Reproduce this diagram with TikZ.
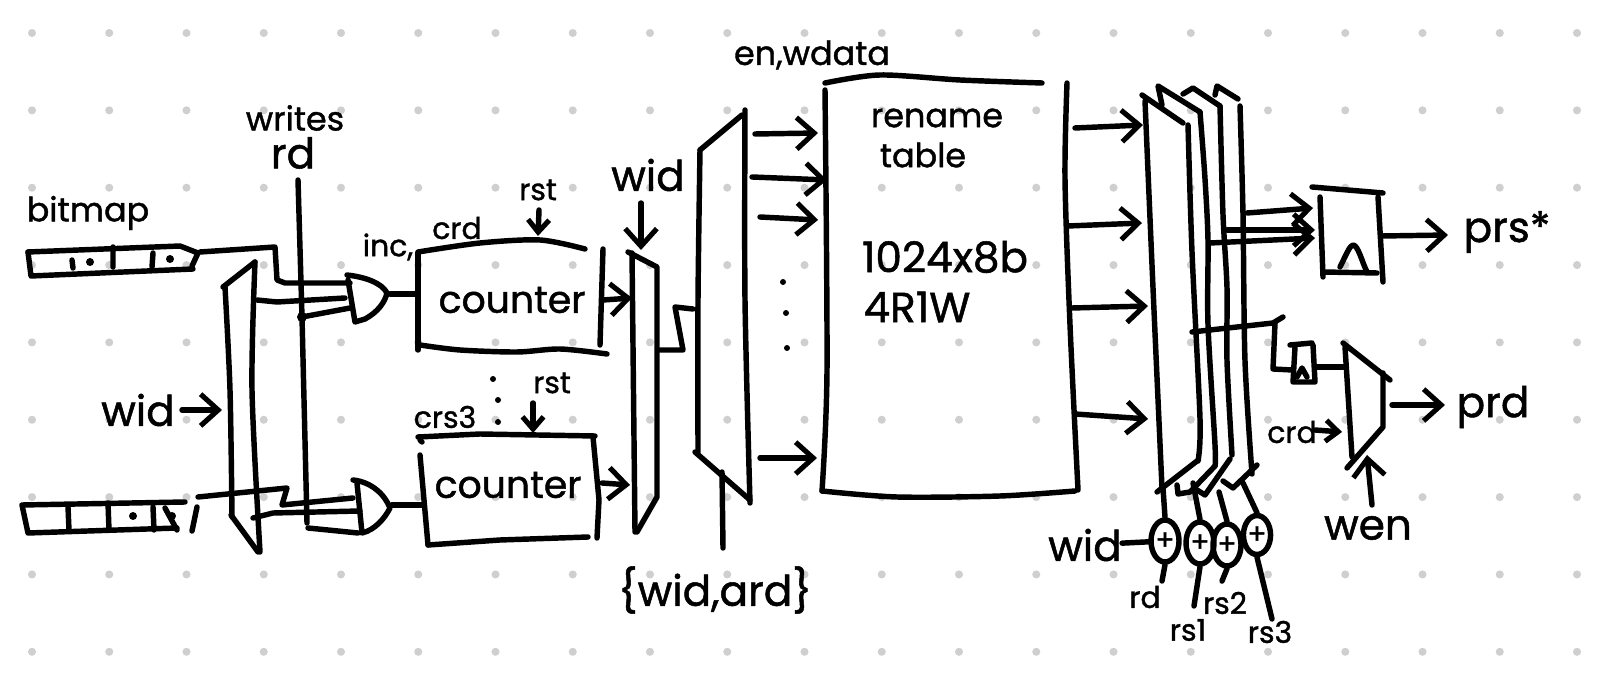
\documentclass[tikz,border=0pt]{standalone}
\usepackage{fontspec}
\usepackage{tikz}
\usetikzlibrary{arrows.meta,shapes.geometric}
\setmainfont{Poppins}[FakeBold=1.2]
\definecolor{griddot}{HTML}{CFCFCF}
\tikzset{
  wire/.style={line width=3.1pt,line cap=round,line join=round},
  sig/.style={wire,-{Straight Barb[length=10pt,width=18pt,line width=2.9pt]}},
  sigsmall/.style={wire,-{Straight Barb[length=7pt,width=12pt,line width=2.9pt]}},
  griddotted/.style={circle,fill=griddot,inner sep=0pt,minimum size=4.6pt},
  adder/.style={ellipse,draw,line width=3.1pt,inner sep=0pt,minimum width=0.56cm,minimum height=0.84cm,font=\fontsize{16}{16}\selectfont},
  bighand/.style={inner sep=0pt,font=\fontsize{24}{24}\selectfont},
  counterhand/.style={inner sep=0pt,font=\fontsize{21.5}{21.5}\selectfont},
  midhand/.style={inner sep=0pt,font=\fontsize{19}{19}\selectfont},
  lowhand/.style={inner sep=0pt,font=\fontsize{17}{17}\selectfont}
}
\begin{document}
\begin{tikzpicture}[x=0.02cm,y=-0.02cm]
  \useasboundingbox (0,0) rectangle (1598,688);
  \foreach \col in {0,...,20}
    \foreach \row in {0,...,8}
      \node at ({32+77.25*\col},{33+77.35*\row}) [griddotted] (g\col-\row) {};

  \node at (88,213) [midhand] (bitmap) {bitmap};
  \node at (295,118) [midhand] (writes) {writes};
  \node at (293,153) [bighand] (rdtop) {rd};
  \node at (138,410) [bighand] (widA) {wid};
  \node at (388,247) [lowhand] (inc) {inc,};
  \node at (457,228) [lowhand] (crdA) {crd};
  \node at (538,190) [lowhand] (rstA) {rst};
  \node at (445,417) [lowhand] (crsB) {crs3};
  \node at (552,383) [lowhand] (rstB) {rst};
  \node at (512,300) [counterhand] (counterA) {counter};
  \node at (508,485) [counterhand] (counterB) {counter};
  \node at (648,175) [bighand] (widB) {wid};
  \node at (715,590) [bighand] (widard) {\{wid,ard\}};
  \node at (812,55) [midhand] (enwdata) {en,wdata};
  \node at (937,118) [midhand] (rename) {rename};
  \node at (923,155) [midhand] (tablelbl) {table};
  \node at (945,257) [bighand] (size) {1024x8b};
  \node at (917,307) [bighand] (ports) {4R1W};
  \node at (1507,232) [bighand] (prs) {prs*};
  \node at (1493,407) [bighand] (prd) {prd};
  \node at (1292,432) [lowhand] (crdB) {crd};
  \node at (1368,528) [bighand] (wen) {wen};
  \node at (1085,545) [bighand] (widC) {wid};
  \node at (1145,597) [lowhand] (rd) {rd};
  \node at (1188,630) [lowhand] (rsone) {rs1};
  \node at (1225,603) [lowhand] (rstwo) {rs2};
  \node at (1270,632) [lowhand] (rsthree) {rs3};

  \draw[wire] (28,252) -- (180,246) -- (198,253) -- (192,266);
  \draw[wire] (28,252) -- (31,276) -- (193,269);
  \draw[wire] (72,260) -- (73,268) (113,247) -- (113,267) (153,253) -- (152,267);
  \fill (90,262) circle (4) (170,259) circle (4);
  \draw[wire] (22,505) -- (185,502) (22,505) -- (28,533) -- (177,528);
  \draw[wire] (68,507) -- (69,530) (108,503) -- (109,530) (153,507) -- (154,530);
  \draw[wire] (197,507) -- (192,531) (165,508) -- (177,530);
  \fill (133,516) circle (4) (172,516) circle (4);

  \draw[wire] plot[smooth] coordinates {(225,287) (230,390) (232,517)};
  \draw[wire] (223,287) -- (255,262);
  \draw[wire] plot[smooth] coordinates {(255,262) (252,390) (260,552)};
  \draw[wire] (231,515) -- (258,552);
  \coordinate (muxAouta) at (257,300);
  \coordinate (muxAoutb) at (253,518);

  \coordinate (regAout) at (200,252);
  \coordinate (regBout) at (198,497);
  \coordinate (andAa) at (350,283);
  \coordinate (andAb) at (345,298);
  \coordinate (andAc) at (350,308);
  \coordinate (andBa) at (353,498);
  \coordinate (andBb) at (360,511);
  \coordinate (andBc) at (358,533);
  \coordinate (wrtop) at (298,180);
  \coordinate (wrtap) at (302,317);
  \coordinate (wrend) at (307,523);
  \draw[wire] (regAout) -- (275,247) -- (277,280) -- (285,283) -- (andAa);
  \draw[wire] (muxAouta) -- (277,302) -- (andAb);
  \draw[wire] (wrtop) -- (wrtap) -- (wrend);
  \draw[wire] (wrtap) -- (andAc);
  \fill (wrtap) circle (5);
  \draw[wire] (regBout) -- (287,488) -- (282,505) -- (andBa);
  \draw[wire] (muxAoutb) -- (273,513) -- (andBb);
  \draw[wire] (308,528) -- (andBc);

  \draw[wire] (348,280) -- (355,322) -- (365,319) .. controls (378,312) and (385,302) .. (387,293) .. controls (382,283) and (365,277) .. (347,275);
  \draw[wire] (357,483) -- (362,533) .. controls (375,530) and (385,518) .. (390,508) .. controls (385,495) and (372,482) .. (353,480);

  \coordinate (counterAin) at (418,294);
  \coordinate (counterBin) at (422,505);
  \coordinate (andAout) at (390,294);
  \coordinate (andBout) at (392,505);
  \draw[wire] (andAout) -- (counterAin);
  \draw[wire] (andBout) -- (counterBin);
  \draw[sig] (182,410) -- (222,410);

  \draw[wire] (418,253) -- (418,350);
  \draw[wire] plot[smooth] coordinates {(418,252) (480,243) (540,240) (585,249)};
  \draw[wire] plot[smooth] coordinates {(420,345) (460,350) (517,352) (560,349) (607,354)};
  \draw[wire] (603,249) -- (600,345);
  \draw[wire] (418,437) -- (480,434) -- (595,436);
  \draw[wire] (420,440) -- (422,442) (420,455) -- (428,545);
  \draw[wire] (428,545) -- (500,540) -- (588,537);
  \draw[wire] (593,437) -- (599,500) -- (597,538);
  \draw[sigsmall] (539,210) -- (538,236);
  \draw[sigsmall] (533,403) -- (533,433);
  \draw[sig] (641,203) -- (641,250);
  \draw[sig] (603,300) -- (632,298);
  \draw[sig] (602,483) -- (630,485);
  \fill (493,379) circle (3) (498,400) circle (3) (498,422) circle (3);

  \draw[wire] (628,252) -- (657,267) -- (657,497) -- (637,532);
  \draw[wire] (632,253) -- (635,532);
  \coordinate (muxBout) at (660,350);
  \coordinate (muxCin) at (693,309);
  \draw[wire] (muxBout) -- (683,350) -- (675,307) -- (muxCin);

  \draw[wire] (700,150) -- (742,115);
  \draw[wire] plot[smooth] coordinates {(700,150) (698,300) (698,452)};
  \draw[wire] plot[smooth] coordinates {(745,110) (745,300) (750,503)};
  \draw[wire] (695,452) -- (750,500);
  \coordinate (widardtop) at (722,472);
  \coordinate (widardend) at (723,548);
  \draw[wire] (widardtop) -- (widardend);

  \draw[wire] plot[smooth] coordinates {(825,83) (880,75) (960,80) (1042,83)};
  \draw[wire] plot[smooth] coordinates {(825,90) (827,370) (822,491)};
  \draw[wire] plot[smooth] coordinates {(1067,83) (1065,179) (1070,325) (1078,490)};
  \draw[wire] plot[smooth] coordinates {(822,491) (897,497) (1000,496) (1075,491)};
  \draw[sig] (755,134) -- (818,133);
  \draw[sig] (752,177) -- (827,180);
  \draw[sig] (760,217) -- (818,220);
  \draw[sig] (760,458) -- (817,458);
  \fill (783,282) circle (3) (786,313) circle (3) (787,348) circle (3);

  \draw[sig] (1075,128) -- (1143,125);
  \draw[sig] (1068,226) -- (1142,223);
  \draw[sig] (1072,308) -- (1148,306);
  \draw[sig] (1075,414) -- (1148,419);

  \draw[wire] (1142,95) -- (1183,123);
  \draw[wire] plot[smooth] coordinates {(1145,101) (1153,288) (1162,488)};
  \draw[wire] (1157,492) -- (1197,461);
  \draw[wire] plot[smooth] coordinates {(1188,125) (1192,252) (1200,419) (1198,461)};
  \draw[wire] (1162,105) -- (1158,86) -- (1200,112);
  \draw[wire] plot[smooth] coordinates {(1200,112) (1205,179) (1208,241) (1208,325) (1215,445) (1215,466)};
  \draw[wire] (1177,485) -- (1178,494) -- (1190,492) -- (1215,466);
  \draw[wire] (1183,94) -- (1193,88) -- (1220,106);
  \draw[wire] plot[smooth] coordinates {(1220,106) (1223,215) (1227,288) (1227,361) (1232,455)};
  \draw[wire] (1197,490) -- (1205,495) -- (1230,459);
  \draw[wire] (1215,95) -- (1217,86) -- (1238,99);
  \draw[wire] plot[smooth] coordinates {(1240,106) (1243,215) (1245,361) (1252,474)};
  \draw[wire] (1223,481) -- (1233,488) -- (1257,465);

  \draw[sig] (1247,213) -- (1313,208);
  \draw[sig] (1227,230) -- (1315,230);
  \draw[sig] (1210,243) -- (1315,238);
  \draw[wire] (1312,187) -- (1383,193);
  \draw[wire] (1320,197) -- (1323,277);
  \draw[wire] (1378,197) -- (1383,282);
  \draw[wire] (1323,272) -- (1377,273);
  \draw[wire] (1340,267) .. controls (1346,255) and (1350,245) .. (1353,245) .. controls (1358,245) and (1362,262) .. (1367,272);
  \draw[sig] (1382,236) -- (1448,235);

  \draw[wire] (1192,332) -- (1273,323) -- (1283,317);
  \draw[wire] (1275,323) -- (1273,369) -- (1292,370);
  \draw[wire] (1290,345) -- (1312,343);
  \draw[wire] (1295,347) -- (1293,382) -- (1315,382) -- (1313,345);
  \draw[wire] (1297,377) -- (1302,368) -- (1307,377);
  \draw[wire] (1317,367) -- (1343,367);
  \draw[wire] (1343,343) -- (1390,380);
  \draw[wire] (1345,347) -- (1352,457);
  \draw[wire] (1383,373) -- (1383,427) -- (1347,468);
  \draw[sig] (1392,405) -- (1445,405);
  \draw[sigsmall] (1315,430) -- (1342,432);
  \draw[sig] (1372,505) -- (1367,455);

  \node at (1165,541) [adder] (addA) {+};
  \node at (1200,543) [adder] (addB) {+};
  \node at (1227,545) [adder] (addC) {+};
  \node at (1257,535) [adder,minimum width=0.48cm,minimum height=0.78cm] (addD) {+};
  \coordinate (muxAsel) at (1163,488);
  \coordinate (muxBsel) at (1193,483);
  \coordinate (muxCsel) at (1219,492);
  \coordinate (muxDsel) at (1243,483);
  \coordinate (rdend) at (1162,581);
  \coordinate (rsoneend) at (1194,606);
  \coordinate (rstwoend) at (1222,581);
  \coordinate (rsthreeend) at (1272,619);
  \draw[wire] (muxAsel) -- (addA.north);
  \draw[wire] (muxBsel) -- (addB.north);
  \draw[wire] (muxCsel) -- (addC.north);
  \draw[wire] (muxDsel) -- (addD.north);
  \draw[wire] (widC) -- (addA);
  \draw[wire] (addA.south) -- (rdend);
  \draw[wire] (addB.south) -- (rsoneend);
  \draw[wire] (addC.south) -- (rstwoend);
  \draw[wire] (addD.south) -- (rsthreeend);
\end{tikzpicture}
\end{document}
